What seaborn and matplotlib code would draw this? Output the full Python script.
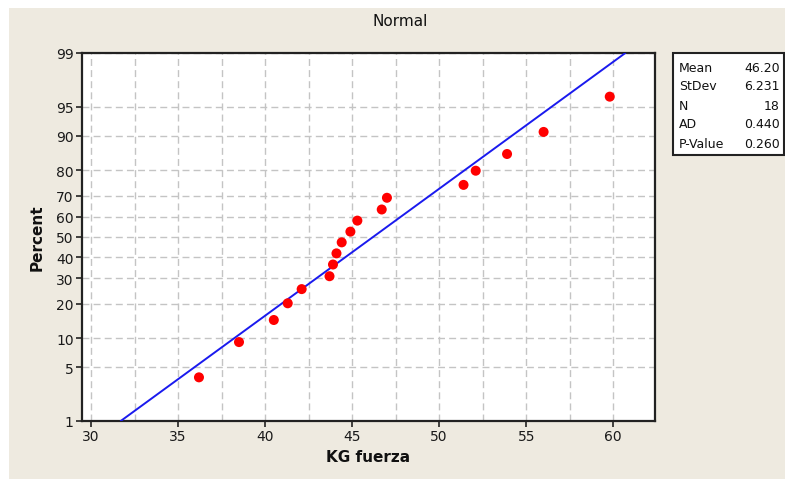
import matplotlib
matplotlib.use("Agg")
import matplotlib.pyplot as plt
import matplotlib.patches as mpatches
import seaborn as sns
import numpy as np
import pandas as pd
from statistics import NormalDist

# Data
kg_fuerza = [36.2, 38.5, 40.5, 41.3, 42.1, 43.7, 43.9, 44.1, 44.4,
             44.9, 45.3, 46.7, 47.0, 51.4, 52.1, 53.9, 56.0, 59.8]
percent = [3.8, 9.2, 14.7, 20.1, 25.5, 31.0, 36.4, 41.8, 47.3,
           52.7, 58.2, 63.6, 69.0, 74.5, 79.9, 85.3, 90.8, 96.2]
y_ticks = [1, 5, 10, 20, 30, 40, 50, 60, 70, 80, 90, 95, 99]
x_ticks = [30, 35, 40, 45, 50, 55, 60]
stat_names = ["Mean", "StDev", "N", "AD", "P-Value"]
stat_values = ["46.20", "6.231", "18", "0.440", "0.260"]
mean, sd = 46.20, 6.231

nd = NormalDist()
_ppf = np.vectorize(lambda p: nd.inv_cdf(min(max(p / 100.0, 1e-9), 1 - 1e-9)), otypes=[float])
_cdf = np.vectorize(lambda z: nd.cdf(z) * 100.0, otypes=[float])

def fwd(v):
    return _ppf(np.asarray(v, dtype=float))

def inv(v):
    return _cdf(np.asarray(v, dtype=float))

sns.set_theme(style="white")
plt.rcParams['font.family'] = ['DejaVu Sans']

bg = '#EEEAE0'
fig = plt.figure(figsize=(7.85, 4.81), dpi=100, facecolor='white')
fig.patches.append(mpatches.Rectangle((9 / 785, 0.003), 1, 1 - 9 / 481 - 0.003,
                                      transform=fig.transFigure, facecolor=bg,
                                      edgecolor='none', zorder=-10))
ax = fig.add_axes([82 / 785, 59 / 481, 573 / 785, 368 / 481])
ax.set_facecolor('white')

# fitted normal line from 1% to 99%
fit = pd.DataFrame({"x": [mean + sd * nd.inv_cdf(0.01), mean + sd * nd.inv_cdf(0.99)],
                    "p": [1, 99]})
pts = pd.DataFrame({"x": kg_fuerza, "p": percent})

ax.set_yscale('function', functions=(fwd, inv))
sns.lineplot(data=fit, x="x", y="p", color='#1a1aee', linewidth=1.4, ax=ax, zorder=3)
sns.scatterplot(data=pts, x="x", y="p", color='#ff0000', s=52, edgecolor='none',
                ax=ax, zorder=4)

ax.set_xlim(29.48, 62.4)
ax.set_ylim(1, 99)
ax.set_xticks(x_ticks)
ax.set_xticks(np.arange(32.5, 62, 5), minor=True)
ax.set_yticks(y_ticks)
ax.set_yticklabels([str(t) for t in y_ticks])
ax.yaxis.set_minor_locator(matplotlib.ticker.NullLocator())

ax.grid(True, which='both', axis='x', color='#c4c4c4', linestyle=(0, (5, 3)), linewidth=1)
ax.grid(True, which='major', axis='y', color='#c4c4c4', linestyle=(0, (5, 3)), linewidth=1)
ax.set_axisbelow(True)

ax.tick_params(axis='both', which='major', direction='out', length=4, width=1.2,
               color='#222222', labelsize=10, labelcolor='#1a1a1a', pad=2,
               bottom=True, left=True)
ax.tick_params(axis='both', which='minor', length=0)
for s in ax.spines.values():
    s.set_visible(True)
    s.set_color('#222222')
    s.set_linewidth(1.6)

ax.set_xlabel("KG fuerza", fontsize=11, fontweight='bold', color='#111111', labelpad=4)
ax.set_ylabel("Percent", fontsize=11, fontweight='bold', color='#111111', labelpad=8)
fig.text(400 / 785, 1 - 22 / 481, "Normal", ha='center', va='center', fontsize=11,
         color='#111111')

# statistics box
fig.patches.append(mpatches.Rectangle((673 / 785, 1 - 156 / 481), 111 / 785, 102 / 481,
                                      transform=fig.transFigure, facecolor='white',
                                      edgecolor='#222222', linewidth=1.5, zorder=5))
for i, (n, v) in enumerate(zip(stat_names, stat_values)):
    yy = 1 - (68 + i * 19) / 481
    fig.text(679 / 785, yy, n, ha='left', va='center', fontsize=9, color='#111111', zorder=6)
    fig.text(780 / 785, yy, v, ha='right', va='center', fontsize=9, color='#111111', zorder=6)

plt.savefig("out.png", dpi=100, facecolor='white')
